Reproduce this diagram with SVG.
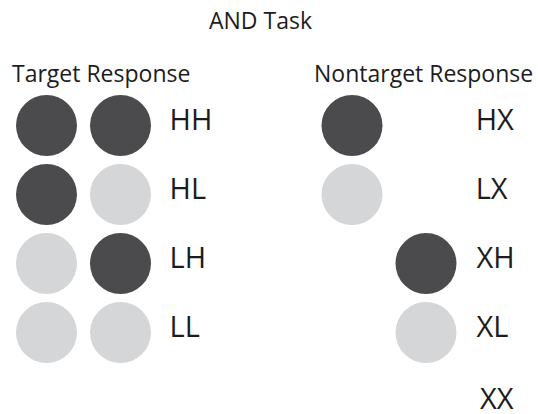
<svg xmlns="http://www.w3.org/2000/svg" width="538" height="414" viewBox="0 0 538 414">
  <style>
    text { font-family: "Open Sans", "Liberation Sans", sans-serif; font-size: 23px; fill: #1c1c1c; }
    text.lbl { font-size: 29px; }
    .hi { fill: #4b4b4d; }
    .lo { fill: #d5d6d8; }
  </style>
  <rect width="538" height="414" fill="#ffffff"/>
  <text x="260.5" y="29" text-anchor="middle">AND Task</text>
  <text x="12" y="82">Target Response</text>
  <text x="314" y="82">Nontarget Response</text>

  <!-- Target responses: two stimuli per row -->
  <g id="HH">
    <circle class="hi" cx="46.5" cy="125.5" r="30.5"/>
    <circle class="hi" cx="120.5" cy="125.5" r="30.5"/>
    <text class="lbl" x="169.5" y="129.5">HH</text>
  </g>
  <g id="HL">
    <circle class="hi" cx="46.5" cy="194.5" r="30.5"/>
    <circle class="lo" cx="120.5" cy="194.5" r="30.5"/>
    <text class="lbl" x="169.5" y="198.5">HL</text>
  </g>
  <g id="LH">
    <circle class="lo" cx="46.5" cy="263.5" r="30.5"/>
    <circle class="hi" cx="120.5" cy="263.5" r="30.5"/>
    <text class="lbl" x="169.5" y="267.5">LH</text>
  </g>
  <g id="LL">
    <circle class="lo" cx="46.5" cy="332.5" r="30.5"/>
    <circle class="lo" cx="120.5" cy="332.5" r="30.5"/>
    <text class="lbl" x="169.5" y="336.5">LL</text>
  </g>

  <!-- Nontarget responses: one stimulus per row -->
  <g id="HX">
    <circle class="hi" cx="352" cy="125.5" r="30.5"/>
    <text class="lbl" x="475.7" y="129.5">HX</text>
  </g>
  <g id="LX">
    <circle class="lo" cx="352" cy="194.5" r="30.5"/>
    <text class="lbl" x="475.7" y="198.5">LX</text>
  </g>
  <g id="XH">
    <circle class="hi" cx="426" cy="263.5" r="30.5"/>
    <text class="lbl" x="476.5" y="267.5">XH</text>
  </g>
  <g id="XL">
    <circle class="lo" cx="426" cy="332.5" r="30.5"/>
    <text class="lbl" x="476.5" y="336.5">XL</text>
  </g>
  <g id="XX">
    <text class="lbl" x="480" y="409">XX</text>
  </g>
</svg>
